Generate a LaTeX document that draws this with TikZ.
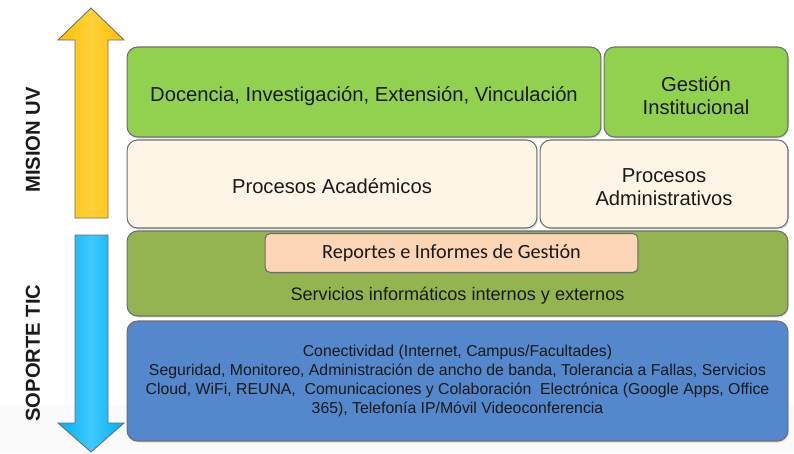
\documentclass[tikz,border=0pt]{standalone}
\usepackage{fontspec}
\setmainfont{Liberation Sans}
\newfontfamily\carlito{Carlito}
\usetikzlibrary{shadows}

\definecolor{misiongreen}{HTML}{92D050}
\definecolor{procesocream}{HTML}{FDF5E6}
\definecolor{serviciogreen}{HTML}{93B451}
\definecolor{reportepeach}{HTML}{FBD5B5}
\definecolor{redblue}{HTML}{5487CB}
\definecolor{boxedge}{HTML}{6E6E6E}
\definecolor{textdark}{HTML}{1A1A1A}
\definecolor{arrowyellow}{HTML}{FFC000}
\definecolor{arrowyellowlight}{HTML}{FFD03A}
\definecolor{arrowblue}{HTML}{00B0F0}
\definecolor{arrowbluelight}{HTML}{40C8FF}

\begin{document}
\begin{tikzpicture}[x=0.02cm, y=-0.02cm,
    layer/.style={draw=boxedge, line width=0.6pt, rounded corners=6pt, inner sep=0pt,
      align=center, text=textdark,
      drop shadow={opacity=0.25, shadow xshift=0.6pt, shadow yshift=-0.9pt}},
    layertext/.style={align=center, text=textdark, inner sep=0pt},
    bigtext/.style={font=\fontsize{11.5}{13}\selectfont},
    sidelabel/.style={rotate=90, text=textdark, font=\bfseries\fontsize{11.5}{13}\selectfont}]
    \useasboundingbox (0,0) rectangle (794,453);
    \fill[black!2] (0,405) rectangle (794,453);

    % Arrows
    \shade[draw=boxedge, line width=0.5pt, left color=arrowyellow, right color=arrowyellow,
      middle color=arrowyellowlight]
      (75,218) -- (75,40) -- (58,40) -- (91,8) -- (124,40) -- (108,40) -- (108,218) -- cycle;
    \shade[draw=boxedge, line width=0.5pt, left color=arrowblue, right color=arrowblue,
      middle color=arrowbluelight]
      (75,235) -- (108,235) -- (108,423) -- (124,423) -- (91,452) -- (58,423) -- (75,423) -- cycle;
    \node[sidelabel] (mision) at (33,140) {MISION UV};
    \node[sidelabel] (soporte) at (33,353) {SOPORTE TIC};

    % Mision
    \node[layer, fill=misiongreen, minimum width=9.48cm, minimum height=1.8cm] (docencia) at (364,92) {};
    \node[layer, fill=misiongreen, minimum width=3.68cm, minimum height=1.8cm] (gestion) at (696,92) {};
    \node[layer, fill=procesocream, minimum width=8.2cm, minimum height=1.76cm] (academicos) at (332,184) {};
    \node[layer, fill=procesocream, minimum width=4.96cm, minimum height=1.76cm] (administrativos) at (664,184) {};
    \node[layertext, bigtext] (docenciatext) at (364,96) {Docencia, Investigación, Extensión, Vinculación};
    \node[layertext, bigtext] (gestiontext) at (696,95.5) {Gestión\\Institucional};
    \node[layertext, bigtext] (academicostext) at (332,186) {Procesos Académicos};
    \node[layertext, bigtext] (administrativostext) at (664,187) {Procesos\\Administrativos};

    % Soporte
    \node[layer, fill=serviciogreen, minimum width=13.22cm, minimum height=1.7cm]
      (servicios) at (457.5,273.5) {};
    \node[layertext, font=\fontsize{10.3}{12}\selectfont] (serviciostext) at (457.5,296)
      {Servicios informáticos internos y externos};
    \node[layer, fill=reportepeach, rounded corners=3pt, minimum width=7.46cm, minimum height=0.78cm,
      font=\carlito\fontsize{11.5}{13}\selectfont] (reportes) at (451.5,253)
      {Reportes e Informes de Gestión};
    \node[layer, fill=redblue, minimum width=13.22cm, minimum height=2.4cm,
      font=\fontsize{9}{10.7}\selectfont] (red) at (457.5,381)
      {Conectividad (Internet, Campus/Facultades)\\
       Seguridad, Monitoreo, Administración de ancho de banda, Tolerancia a Fallas, Servicios\\
       Cloud, WiFi, REUNA,\ \ Comunicaciones y Colaboración\ \ Electrónica (Google Apps, Office\\
       365), Telefonía IP/Móvil Videoconferencia};
\end{tikzpicture}
\end{document}
